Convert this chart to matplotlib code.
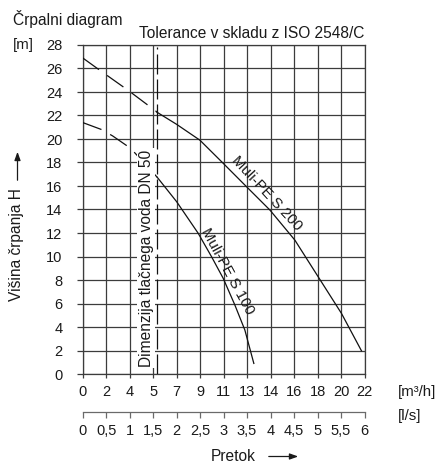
import matplotlib
matplotlib.use("Agg")
import matplotlib.pyplot as plt

plt.rcParams['font.family'] = ['Liberation Sans', 'DejaVu Sans']

# ---- data ----
q_max = 22.0
n_cols = 12
q_tick_labels = ["0", "2", "4", "5", "7", "9", "11", "13", "14", "16", "18", "20", "22"]
ls_tick_labels = ["0", "0,5", "1", "1,5", "2", "2,5", "3", "3,5", "4", "4,5", "5", "5,5", "6"]
h_ticks = list(range(0, 29, 2))

s200_dash_q = [0.0, 1.4, 3.6, 5.8]
s200_dash_h = [26.9, 25.8, 24.1, 22.3]
s200_q = [5.77, 7.33, 9.15, 10.97, 12.79, 14.61, 16.56, 18.38, 20.2, 21.76]
s200_h = [22.3, 21.25, 19.9, 17.93, 15.94, 13.96, 11.4, 8.28, 5.16, 1.98]

s100_dash_q = [0.0, 1.48, 2.34, 3.75, 5.82]
s100_dash_h = [21.4, 20.8, 20.26, 19.2, 16.74]
s100_q = [5.82, 7.33, 9.02, 10.06, 10.97, 11.88, 12.66, 13.36]
s100_h = [16.74, 14.67, 11.97, 9.98, 8.14, 5.87, 3.74, 0.9]

dn50_q = 5.8

W, H = 441, 465
fig = plt.figure(figsize=(W / 100, H / 100), dpi=100)

def fx(px):
    return px / W

def fy(py):
    return 1 - py / H

gridc = '#3c3c3c'
L, R, T, B = 82.7, 364.5, 45, 374
ax = fig.add_axes([fx(L), fy(B), fx(R) - fx(L), fy(T) - fy(B)])
ax.set_xlim(0, q_max)
ax.set_ylim(0, 28)
qpos = [q_max / n_cols * i for i in range(n_cols + 1)]
ax.set_xticks(qpos)
ax.set_xticklabels(q_tick_labels)
ax.set_yticks(h_ticks)
ax.set_yticklabels([str(v) for v in h_ticks])
ax.grid(True, color=gridc, linewidth=0.9)
for s in ax.spines.values():
    s.set_color(gridc)
    s.set_linewidth(0.9)
ax.tick_params(axis='y', length=4, width=0.9, color=gridc, pad=10.5, labelsize=10.5, labelcolor='#1a1a1a')
ax.tick_params(axis='x', length=3, width=0.9, color=gridc, pad=5, labelsize=10.5, labelcolor='#1a1a1a')

# curves
ax.plot(s200_dash_q, s200_dash_h, color='#111111', lw=0.9, dashes=(16, 8), zorder=3)
ax.plot(s200_q, s200_h, color='#111111', lw=0.9, zorder=3)
ax.plot(s100_dash_q, s100_dash_h, color='#111111', lw=0.9, dashes=(16, 8), zorder=3)
ax.plot(s100_q, s100_h, color='#111111', lw=0.9, zorder=3)
ax.axvline(dn50_q, color='#111111', lw=0.9, dashes=(16, 4), ymax=0.995, zorder=3)

# curve labels
ax.text(14.35, 15.35, "Muli-PE S 200", rotation=-47, ha='center', va='center',
        fontsize=10.8, color='#1a1a1a', rotation_mode='anchor', zorder=4)
ax.text(11.33, 8.77, "Muli-PE S 100", rotation=-61.5, ha='center', va='center',
        fontsize=10.8, color='#1a1a1a', rotation_mode='anchor', zorder=4)

# DN 50 label with white background
fig.text(fx(146), fy(258), "Dimenzija tlačnega voda DN 50", rotation=90,
         ha='center', va='center', fontsize=11.2, color='#1a1a1a',
         bbox=dict(facecolor='white', edgecolor='none', pad=1.0), zorder=5)

# second axis (l/s)
y2 = 411.7
ax2 = fig.add_axes([fx(L), fy(y2), fx(R) - fx(L), 0.0001])
ax2.set_xlim(0, q_max)
ax2.set_ylim(0, 1)
ax2.set_xticks(qpos)
ax2.set_xticklabels(ls_tick_labels)
ax2.set_yticks([])
for k in ['top', 'left', 'right']:
    ax2.spines[k].set_visible(False)
ax2.spines['bottom'].set_color('#6a6a6a')
ax2.spines['bottom'].set_linewidth(0.9)
ax2.tick_params(axis='x', length=4.5, width=0.9, color='#6a6a6a', pad=4,
                labelsize=10.5, labelcolor='#1a1a1a')
ax2.patch.set_visible(False)

# texts
fig.text(fx(13), fy(19), "Črpalni diagram", ha='left', va='center', fontsize=11.2, color='#1a1a1a')
fig.text(fx(364), fy(33), "Tolerance v skladu z ISO 2548/C", ha='right', va='center', fontsize=11.2, color='#1a1a1a')
fig.text(fx(13), fy(45), "[m]", ha='left', va='center', fontsize=10.8, color='#1a1a1a')
fig.text(fx(398), fy(392), "[m³/h]", ha='left', va='center', fontsize=10.8, color='#1a1a1a')
fig.text(fx(398), fy(416), "[l/s]", ha='left', va='center', fontsize=10.8, color='#1a1a1a')

fig.text(fx(17), fy(245), "Višina črpanja H", rotation=90, ha='center', va='center', fontsize=11.2, color='#1a1a1a')
fig.patches.append(matplotlib.patches.FancyArrowPatch(
    (fx(17.5), fy(183)), (fx(17.5), fy(149)), transform=fig.transFigure,
    arrowstyle='-|>,head_length=5,head_width=1.8', color='#1a1a1a', lw=0.9, mutation_scale=1))

fig.text(fx(233), fy(456.5), "Pretok", ha='center', va='center', fontsize=11.2, color='#1a1a1a')
fig.patches.append(matplotlib.patches.FancyArrowPatch(
    (fx(266), fy(456.5)), (fx(301), fy(456.5)), transform=fig.transFigure,
    arrowstyle='-|>,head_length=5,head_width=1.8', color='#1a1a1a', lw=0.9, mutation_scale=1))

fig.savefig("out.png", dpi=100)
